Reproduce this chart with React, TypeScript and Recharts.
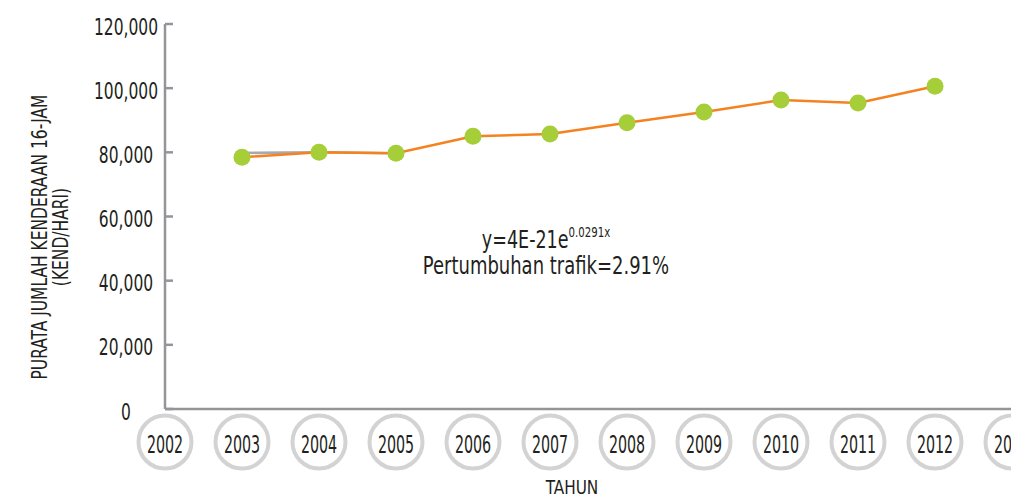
import React from "react";
import { LineChart, Line, XAxis, YAxis } from "recharts";

const FONT = "'DejaVu Sans Condensed', 'DejaVu Sans', sans-serif";
const INK = "#231f20";

const years = [2003, 2004, 2005, 2006, 2007, 2008, 2009, 2010, 2011, 2012];
const traffic = [78500, 80000, 79700, 85000, 85700, 89200, 92600, 96300, 95400, 100600];
const earlier = [79800, 80000, 79700, null, null, null, null, null, null, null];
const yearTicks = [2002, 2003, 2004, 2005, 2006, 2007, 2008, 2009, 2010, 2011, 2012, 2013];
const valueTicks = [0, 20000, 40000, 60000, 80000, 100000, 120000];

const data = years.map((y, i) => ({ year: y, v: traffic[i], g: earlier[i] }));

function YearTick(props: any) {
  const { x, y, payload } = props;
  return (
    <g>
      <circle cx={x} cy={y + 33} r={26.5} fill="#fff" stroke="#d3d3d3" strokeWidth={4} />
      <text
        transform={`translate(${x},${y + 44}) scale(0.66,1)`}
        textAnchor="middle"
        fontSize={24}
        fill={INK}
        fontFamily={FONT}
      >
        {payload.value}
      </text>
    </g>
  );
}

function ValueTick(props: any) {
  const { x, y, payload } = props;
  return (
    <g>
      <line x1={x + 8} x2={x + 16} y1={y} y2={y} stroke="#939598" strokeWidth={2.5} />
      <text
        transform={`translate(${x - 31},${y + 10.5}) scale(0.75,1)`}
        textAnchor="middle"
        fontSize={23}
        fill={INK}
        fontFamily={FONT}
      >
        {payload.value.toLocaleString("en-US")}
      </text>
    </g>
  );
}

export default function App() {
  return (
    <div style={{ position: "relative", width: 1011, height: 489 }}>
      <LineChart width={1011} height={489} data={data} margin={{ top: 16, right: 7, left: 0, bottom: 58 }}>
        <XAxis
          dataKey="year"
          type="number"
          domain={[2002, 2013]}
          ticks={yearTicks}
          interval={0}
          tick={<YearTick />}
          tickLine={false}
          tickSize={0}
          tickMargin={0}
          axisLine={{ stroke: "#939598", strokeWidth: 2.5 }}
        />
        <YAxis
          width={157}
          domain={[0, 120000]}
          ticks={valueTicks}
          interval={0}
          tick={<ValueTick />}
          tickLine={false}
          tickSize={0}
          tickMargin={8}
          axisLine={{ stroke: "#939598", strokeWidth: 2.5 }}
        />
        <Line
          dataKey="g"
          stroke="#a7a9ac"
          strokeWidth={2.5}
          dot={false}
          activeDot={false}
          isAnimationActive={false}
        />
        <Line
          dataKey="v"
          stroke="#f58220"
          strokeWidth={2.5}
          dot={{ r: 8.5, fill: "#a6ce39", stroke: "none" }}
          activeDot={false}
          isAnimationActive={false}
        />
      </LineChart>
      <svg
        width={1011}
        height={489}
        style={{ position: "absolute", left: 0, top: 0, pointerEvents: "none" }}
        fontFamily={FONT}
        fill={INK}
      >
        <g textAnchor="middle" fontSize={20.5}>
          <text transform="translate(39,229) rotate(-90) scale(0.84,1)">PURATA JUMLAH KENDERAAN 16-JAM</text>
          <text transform="translate(60,229) rotate(-90) scale(0.84,1)">(KEND/HARI)</text>
        </g>
        <text transform="translate(538,240) scale(0.78,1)" textAnchor="middle" fontSize={25}>
          y=4E-21e
          <tspan fontSize={14.5} dy={-11}>
            0.0291x
          </tspan>
        </text>
        <text transform="translate(538,266) scale(0.8,1)" textAnchor="middle" fontSize={25}>
          Pertumbuhan trafik=2.91%
        </text>
        <text transform="translate(564,486) scale(0.85,1)" textAnchor="middle" fontSize={20}>
          TAHUN
        </text>
      </svg>
    </div>
  );
}
